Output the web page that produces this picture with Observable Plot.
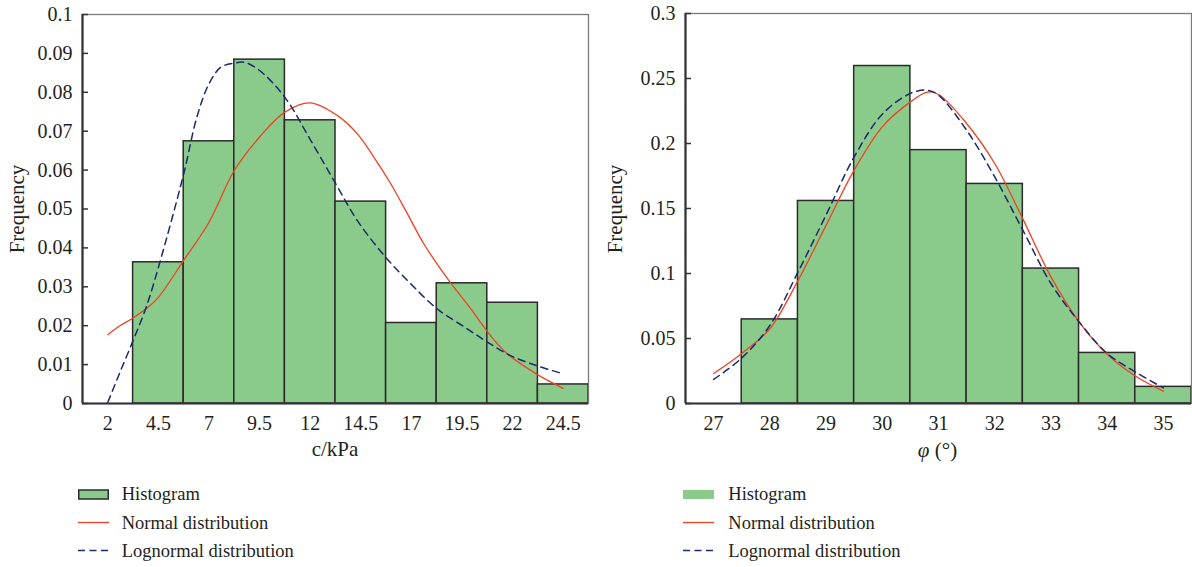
<!DOCTYPE html>
<html><head><meta charset="utf-8">
<script src="https://cdn.jsdelivr.net/npm/d3@7"></script>
<script src="https://cdn.jsdelivr.net/npm/@observablehq/plot@0.6"></script>
<style>
body{margin:0;background:#fff;font-family:"Liberation Serif","DejaVu Serif",serif;color:#231f20}
#wrap{position:relative;width:1192px;height:567px;overflow:hidden;background:#fff}
.panel{position:absolute;top:0}
.lab{position:absolute;font-size:21px;line-height:21px;white-space:nowrap;transform:translate(-50%,-50%)}
.ylab{transform:translate(-50%,-50%) rotate(-90deg)}
.item{position:absolute;height:20px;line-height:20px;font-size:18.5px;white-space:nowrap;display:flex;align-items:center}
.item svg{margin-right:12px}
</style></head>
<body>
<div id="wrap">
  <div id="left" class="panel" style="left:0"></div>
  <div id="right" class="panel" style="left:596px"></div>
  <div class="lab ylab" style="left:17px;top:208.5px">Frequency</div>
  <div class="lab ylab" style="left:614.5px;top:208.5px">Frequency</div>
  <div class="lab" style="left:335px;top:449px">c/kPa</div>
  <div class="lab" style="left:937.5px;top:450px"><i>φ</i> (°)</div>
  <div id="legL"></div>
  <div id="legR"></div>
</div>
<script>
// ---------- Data: cohesion c (kPa) ----------
const cCenters = [4.5, 7, 9.5, 12, 14.5, 17, 19.5, 22, 24.5];
const cFreq    = [0.0363, 0.0674, 0.0884, 0.0728, 0.0519, 0.0207, 0.0309, 0.0259, 0.0049];
const cBinWidth = 2.5;
const cTicks = [2, 4.5, 7, 9.5, 12, 14.5, 17, 19.5, 22, 24.5];
const cYTicks = [0, 0.01, 0.02, 0.03, 0.04, 0.05, 0.06, 0.07, 0.08, 0.09, 0.1];
const cNormX = [2, 2.6, 3.25, 4.0, 4.5, 5.75, 7, 8.25, 9.5, 10.75, 12, 13.35, 14.33, 15.15, 15.98, 16.8, 17.62, 18.94, 19.93, 20.75, 21.73, 23.21, 24.5];
const cNormY = [0.0177, 0.0200, 0.0220, 0.0248, 0.0273, 0.0368, 0.0466, 0.0599, 0.0685, 0.0749, 0.0773, 0.0740, 0.0693, 0.0633, 0.0565, 0.0488, 0.0410, 0.0310, 0.0244, 0.0185, 0.0128, 0.0075, 0.0039];
const cLogX = [2, 2.6, 3.25, 3.88, 4.5, 5.75, 6.4, 7, 7.6, 8.25, 8.75, 9.5, 10.75, 12.03, 13.26, 14.33, 15.73, 16.96, 18.28, 19.76, 20.75, 21.9, 23.21, 24.53];
const cLogY = [0.0003, 0.0080, 0.0162, 0.0245, 0.0350, 0.0590, 0.0736, 0.0822, 0.0865, 0.0875, 0.0877, 0.0856, 0.0787, 0.0676, 0.0565, 0.0470, 0.0376, 0.0308, 0.0243, 0.0192, 0.0158, 0.0123, 0.0097, 0.0076];

// ---------- Data: friction angle φ (°) ----------
const pCenters = [28, 29, 30, 31, 32, 33, 34, 35];
const pFreq    = [0.0647, 0.1558, 0.2596, 0.1949, 0.1689, 0.1038, 0.0389, 0.0128];
const pBinWidth = 1;
const pTicks = [27, 28, 29, 30, 31, 32, 33, 34, 35];
const pYTicks = [0, 0.05, 0.1, 0.15, 0.2, 0.25, 0.3];
const pNormX = [27, 27.5, 28, 28.5, 29, 29.5, 30, 30.5, 30.8, 31, 31.5, 32, 32.5, 33, 33.5, 34, 34.5, 35];
const pNormY = [0.0231, 0.0385, 0.0575, 0.0945, 0.1370, 0.1795, 0.2128, 0.2320, 0.2395, 0.2377, 0.2154, 0.1846, 0.1420, 0.0974, 0.0628, 0.0379, 0.0212, 0.0095];
const pLogX = [27, 27.5, 28, 28.5, 29, 29.5, 30, 30.5, 30.8, 31, 31.5, 32, 32.5, 33, 33.5, 34, 34.5, 35];
const pLogY = [0.0185, 0.0350, 0.0600, 0.1010, 0.1450, 0.1897, 0.2225, 0.2385, 0.2410, 0.2372, 0.2102, 0.1743, 0.1333, 0.0923, 0.0628, 0.0385, 0.0243, 0.0120];

const legendLabels = ["Histogram", "Normal distribution", "Lognormal distribution"];

// ---------- Styles ----------
const GREEN = "#8acb8c", BAR_STROKE = "#2b2b2b", RED = "#ef4123", BLUE = "#1b2a6b", AXIS = "#333", FRAME = "#7a7a7a";
const FONT = '"Liberation Serif","DejaVu Serif",serif';

function panel({centers, freq, bw, ticks, yTicks, normX, normY, logX, logY, marginLeft, marginRight, marginTop}) {
  const bins = centers.map((c, i) => ({x1: c - bw / 2, x2: c + bw / 2, f: freq[i]}));
  const xDomain = [ticks[0] - bw / 2, centers[centers.length - 1] + bw / 2];
  const norm = normX.map((x, i) => ({x, y: normY[i]}));
  const logn = logX.map((x, i) => ({x, y: logY[i]}));
  return Plot.plot({
    width: 596, height: 470,
    marginLeft, marginRight, marginTop, marginBottom: 67,
    x: {domain: xDomain},
    y: {domain: [yTicks[0], yTicks[yTicks.length - 1]]},
    style: {fontFamily: FONT, fontSize: "20px", color: "#231f20", background: "transparent"},
    marks: [
      Plot.rectY(bins, {x1: "x1", x2: "x2", y: "f", fill: GREEN, stroke: BAR_STROKE, strokeWidth: 1.5}),
      Plot.line(norm, {x: "x", y: "y", stroke: RED, strokeWidth: 1.3, curve: "catmull-rom"}),
      Plot.line(logn, {x: "x", y: "y", stroke: BLUE, strokeWidth: 1.5, strokeDasharray: "7,5", curve: "catmull-rom"}),
      Plot.frame({stroke: FRAME, strokeWidth: 1.3}),
      Plot.ruleX([xDomain[0]], {stroke: AXIS, strokeWidth: 2.2}),
      Plot.ruleY([yTicks[0]], {stroke: AXIS, strokeWidth: 2.2}),
      Plot.axisX({ticks, tickSize: 0, tickPadding: 12, label: null, tickFormat: d => String(d)}),
      Plot.axisY({ticks: yTicks, tickSize: -6, tickPadding: 16, label: null, tickFormat: d => String(d), stroke: AXIS, strokeWidth: 1.5})
    ]
  });
}

document.getElementById("left").append(panel({
  centers: cCenters, freq: cFreq, bw: cBinWidth, ticks: cTicks, yTicks: cYTicks,
  normX: cNormX, normY: cNormY, logX: cLogX, logY: cLogY,
  marginLeft: 82, marginRight: 8, marginTop: 14
}));
document.getElementById("right").append(panel({
  centers: pCenters, freq: pFreq, bw: pBinWidth, ticks: pTicks, yTicks: pYTicks,
  normX: pNormX, normY: pNormY, logX: pLogX, logY: pLogY,
  marginLeft: 89, marginRight: 1, marginTop: 13
}));

// ---------- Legends ----------
function legend(id, swX, txtX, bordered) {
  const host = document.getElementById(id);
  const rows = [494, 522.7, 550.7];
  const swatches = [
    bordered
      ? `<svg width="31" height="11"><rect x="0.75" y="1" width="29.5" height="9" fill="${GREEN}" stroke="${BAR_STROKE}" stroke-width="1.5"/></svg>`
      : `<svg width="31" height="11"><rect x="0" y="1" width="31" height="9" fill="${GREEN}"/></svg>`,
    `<svg width="31" height="11"><line x1="0" x2="31" y1="5.5" y2="5.5" stroke="${RED}" stroke-width="1.3"/></svg>`,
    `<svg width="31" height="11"><line x1="0" x2="31" y1="5.5" y2="5.5" stroke="${BLUE}" stroke-width="1.5" stroke-dasharray="7,4.5"/></svg>`
  ];
  legendLabels.forEach((lab, i) => {
    const d = document.createElement("div");
    d.className = "item";
    d.style.left = swX + "px";
    d.style.top = (rows[i] - 10) + "px";
    d.innerHTML = swatches[i] + `<span style="margin-left:${txtX - swX - 31 - 12}px">${lab}</span>`;
    host.append(d);
  });
}
legend("legL", 78, 121.7, true);
legend("legR", 682.7, 728.3, false);
</script>
</body></html>
